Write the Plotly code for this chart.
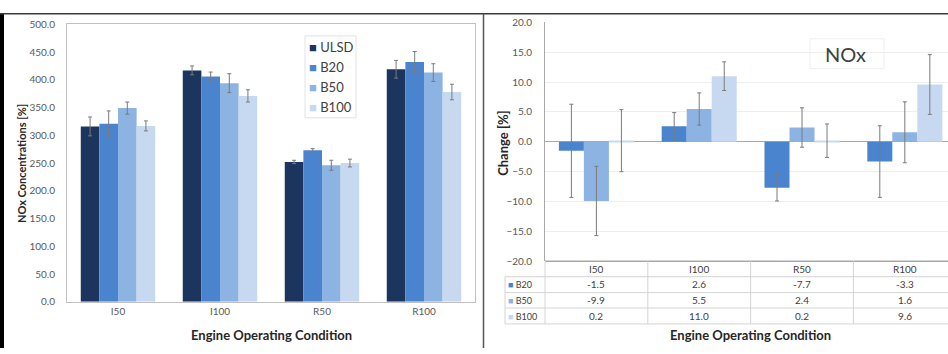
import plotly.graph_objects as go

# ---- data ----
conditions = ["I50", "I100", "R50", "R100"]
fuels = ["ULSD", "B20", "B50", "B100"]

nox_ulsd = [316, 417, 252, 419]
nox_b20 = [321, 406, 273, 432]
nox_b50 = [349, 394, 246, 413]
nox_b100 = [317, 371, 250, 378]
nox_err_ulsd = [17, 8, 3, 16]
nox_err_b20 = [23, 8, 3, 19]
nox_err_b50 = [11, 17, 9, 16]
nox_err_b100 = [9, 11, 7, 14]

chg_b20 = [-1.5, 2.6, -7.7, -3.3]
chg_b50 = [-9.9, 5.5, 2.4, 1.6]
chg_b100 = [0.2, 11.0, 0.2, 9.6]
chg_err_b20 = [7.8, 2.3, 2.2, 6.0]
chg_err_b50 = [5.8, 2.7, 3.3, 5.1]
chg_err_b100 = [5.2, 2.4, 2.8, 5.0]

y1_ticks = [0, 50, 100, 150, 200, 250, 300, 350, 400, 450, 500]
y2_ticks = [-20, -15, -10, -5, 0, 5, 10, 15, 20]

# ---- styling ----
W, H = 948, 354
FONT = "Lato, 'Open Sans', sans-serif"
colors = {"ULSD": "#1b355f", "B20": "#4a84cf", "B50": "#8db3e2", "B100": "#c7d9f0"}
ERR = "#7a7a7a"


def fx(px):
    return px / W


def fy(py):
    return 1 - py / H


fig = go.Figure()

left_vals = {"ULSD": (nox_ulsd, nox_err_ulsd), "B20": (nox_b20, nox_err_b20),
             "B50": (nox_b50, nox_err_b50), "B100": (nox_b100, nox_err_b100)}
for f in fuels:
    v, e = left_vals[f]
    fig.add_trace(go.Bar(
        x=conditions, y=v, name=f, marker=dict(color=colors[f], line=dict(width=0)),
        error_y=dict(type="data", array=e, color=ERR, thickness=1, width=2),
        xaxis="x", yaxis="y", showlegend=False,
    ))

right_vals = {"B20": (chg_b20, chg_err_b20), "B50": (chg_b50, chg_err_b50),
              "B100": (chg_b100, chg_err_b100)}
for f in ["B20", "B50", "B100"]:
    v, e = right_vals[f]
    fig.add_trace(go.Bar(
        x=conditions, y=v, name=f, marker=dict(color=colors[f], line=dict(width=0)),
        error_y=dict(type="data", array=e, color=ERR, thickness=1, width=2),
        xaxis="x2", yaxis="y2", showlegend=False,
    ))

tickfont = dict(family=FONT, size=10, color="#595959")

fig.update_layout(
    width=W, height=H, margin=dict(l=0, r=0, t=0, b=0),
    paper_bgcolor="white", plot_bgcolor="white",
    barmode="group", bargap=0.27, bargroupgap=0,
    font=dict(family=FONT),
    xaxis=dict(domain=[fx(67), fx(475)], type="category", anchor="y",
               showline=True, linecolor="#c0c0c0", mirror=True, ticks="",
               tickfont=tickfont, showgrid=False),
    yaxis=dict(domain=[fy(306), fy(18)], range=[0, 500], tickvals=y1_ticks,
               tickformat=".1f", anchor="x", showline=True, linecolor="#c0c0c0",
               mirror=True, ticks="", tickfont=tickfont, showgrid=False,
               zeroline=False, ticklabelstandoff=9),
    xaxis2=dict(domain=[fx(545), 1.0], type="category", anchor="y2",
                range=[-0.5, 3.42], showticklabels=False, ticks="",
                showline=False, showgrid=False),
    yaxis2=dict(domain=[fy(264), fy(16)], range=[-20, 20], tickvals=y2_ticks,
                tickformat=".1f", anchor="x2", showline=True, linecolor="#a8a8a8",
                ticks="", tickfont=tickfont, showgrid=True, gridcolor="#eeeeee",
                zeroline=True, zerolinecolor="#a8a8a8", zerolinewidth=1,
                ticklabelstandoff=10),
)

shapes = []
# panel frame lines
shapes.append(dict(type="rect", xref="paper", yref="paper", x0=0, x1=fx(4), y0=0, y1=fy(7),
                   fillcolor="black", line=dict(width=0)))
shapes.append(dict(type="line", xref="paper", yref="paper", x0=0, x1=1, y0=fy(7), y1=fy(7),
                   line=dict(color="#3a3a3a", width=1.5)))
shapes.append(dict(type="line", xref="paper", yref="paper", x0=fx(483.5), x1=fx(483.5),
                   y0=0, y1=fy(7), line=dict(color="#555555", width=1.5)))
# bottom axis line of the change chart
shapes.append(dict(type="line", xref="paper", yref="paper", x0=fx(545), x1=1, y0=fy(264), y1=fy(264),
                   line=dict(color="#a8a8a8", width=1.5)))

# data table under the change chart
TL = "#d4d4d4"
row_y = [280, 296.5, 312.5, 329]
for ry in row_y:
    shapes.append(dict(type="line", xref="paper", yref="paper", x0=fx(505), x1=1,
                       y0=fy(ry), y1=fy(ry), line=dict(color=TL, width=1)))
shapes.append(dict(type="line", xref="paper", yref="paper", x0=fx(505), x1=fx(505),
                   y0=fy(329), y1=fy(280), line=dict(color=TL, width=1)))
shapes.append(dict(type="line", xref="paper", yref="paper", x0=fx(545), x1=fx(545),
                   y0=fy(329), y1=fy(264), line=dict(color=TL, width=1)))
for k in range(1, len(conditions)):
    shapes.append(dict(type="line", xref="x2", yref="paper", x0=k - 0.5, x1=k - 0.5,
                       y0=fy(329), y1=fy(264), line=dict(color=TL, width=1)))

# legend frame (concentration chart) and label frame (change chart)
shapes.append(dict(type="rect", xref="paper", yref="paper", x0=fx(305), x1=fx(356),
                   y0=fy(115), y1=fy(30), line=dict(color="#e2e2e2", width=1), fillcolor="white"))
shapes.append(dict(type="rect", xref="paper", yref="paper", x0=fx(810), x1=fx(884),
                   y0=fy(64), y1=fy(33), line=dict(color="#f0f0f0", width=1), fillcolor="rgba(0,0,0,0)"))

annotations = []


def note(x, y, text, font, xanchor="center", xref="paper", angle=0):
    annotations.append(dict(xref=xref, yref="paper", x=x, y=y, text=text, showarrow=False,
                            xanchor=xanchor, yanchor="middle", textangle=angle, font=font))


# legend entries
for i, f in enumerate(fuels):
    note(fx(307), fy(42 + i * 20.5), f"<span style='color:{colors[f]}'>■</span> {f}",
         dict(family=FONT, size=13, color="#404040"), xanchor="left")

note(fx(845), fy(49), "NOx", dict(family=FONT, size=20, color="#404040"))

# axis titles
note(fx(21), fy(163), "<b>NOx Concentrations [%]</b>", dict(family=FONT, size=11, color="#262626"), angle=-90)
note(fx(271), fy(341), "<b>Engine Operating Condition</b>", dict(family=FONT, size=13, color="#262626"))
note(fx(503), fy(141), "<b>Change [%]</b>", dict(family=FONT, size=13, color="#262626"), angle=-90)
note(fx(750), fy(341), "<b>Engine Operating Condition</b>", dict(family=FONT, size=13, color="#262626"))

# table header and cells
cell_font = dict(family=FONT, size=10, color="#404040")
for c in conditions:
    note(c, fy(272), c, cell_font, xref="x2")
table_rows = [("B20", chg_b20), ("B50", chg_b50), ("B100", chg_b100)]
row_centers = [288, 304.5, 321]
for (name, vals), ry in zip(table_rows, row_centers):
    note(fx(506), fy(ry), f"<span style='color:{colors[name]}'>■</span> {name}",
         dict(family=FONT, size=9, color="#404040"), xanchor="left")
    for c, v in zip(conditions, vals):
        note(c, fy(ry), f"{v:.1f}", cell_font, xref="x2")

fig.update_layout(shapes=shapes, annotations=annotations)

fig.write_html("out.html")
